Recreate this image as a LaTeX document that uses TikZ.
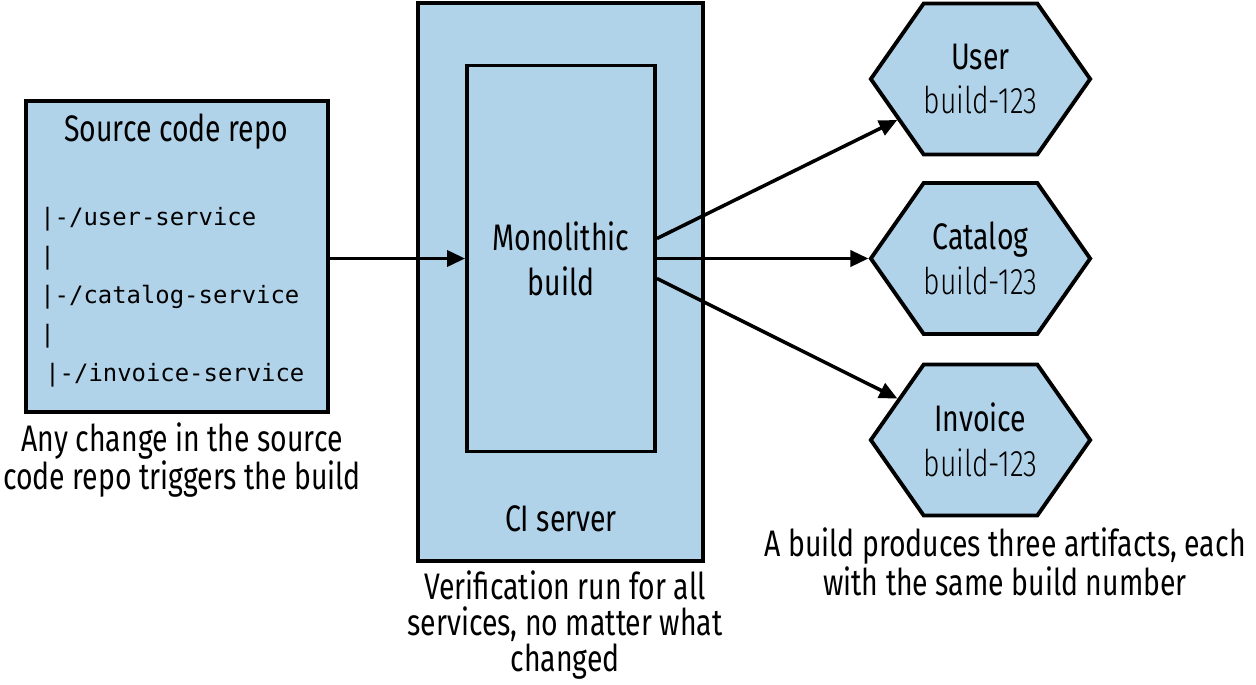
\documentclass[tikz,border=0pt]{standalone}
\usepackage{fontspec}
\setmainfont{Fira Sans}[FakeStretch=0.77]
\newfontfamily\lightfont{Fira Sans Light}[FakeStretch=0.77]
\setmonofont{DejaVu Sans Mono}
\usetikzlibrary{arrows.meta,shapes.symbols,calc}
\definecolor{boxblue}{RGB}{177,211,234}

\begin{document}
\begin{tikzpicture}[
  box/.style={
    draw=black,
    line width=2.2pt,
    fill=boxblue,
    inner sep=0pt
  },
  hexbox/.style={
    signal,
    signal to=east and west,
    signal pointer angle=110,
    draw=black,
    line width=2.2pt,
    fill=boxblue,
    inner sep=0pt,
    minimum width=4.32cm,
    minimum height=3.02cm,
    align=center,
    font=\fontsize{21}{25.5}\selectfont
  },
  label/.style={font=\fontsize{21}{25.5}\selectfont, align=center},
  caption/.style={font=\fontsize{21}{20.5}\selectfont, align=center},
  flow/.style={-{Triangle[length=0.36cm,width=0.32cm]}, line width=2pt}
]
\useasboundingbox (0,0) rectangle (25.12,-13.68);

% -------- Source code repo --------
\node[box, minimum width=6.04cm, minimum height=6.22cm] (src) at (3.54,-5.13) {};
\node[label] (srctitle) at (3.52,-2.64) {Source code repo};
\node[anchor=west, align=left, inner sep=0pt, font=\fontsize{13.6}{22.2}\selectfont\ttfamily] (tree) at (0.80,-5.95)
{|-/user-service\\|\\|-/catalog-service\\|\\\hspace{0.1cm}|-/invoice-service};
\node[caption] (srcnote) at (3.64,-9.2)
{Any change in the source\\code repo triggers the build};

% -------- CI server --------
\node[box, minimum width=5.70cm, minimum height=11.16cm] (ci) at (11.21,-5.64) {};
\node[box, label, minimum width=3.76cm, minimum height=7.72cm] (mono) at (11.22,-5.17)
{Monolithic\\build};
\node[label] (cilabel) at (11.22,-10.38) {CI server};
\node[caption] (cinote) at (11.3,-12.5)
{Verification run for all\\services, no matter what\\changed};

% -------- Artifacts --------
\node[hexbox] (usr) at (19.61,-1.58) {User\\{\lightfont build-123}};
\node[hexbox] (cat) at (19.61,-5.17) {Catalog\\{\lightfont build-123}};
\node[hexbox] (inv) at (19.61,-8.8) {Invoice\\{\lightfont build-123}};
\node[caption] (artnote) at (20.1,-11.24)
{A build produces three artifacts, each\\with the same build number};

% -------- Connectors --------
\draw[flow] (src.east |- mono.west) -- (mono.west);
\draw[flow] ($(mono.east)+(0,0.4)$) -- (usr);
\draw[flow] (mono.east) -- (cat.west);
\draw[flow] ($(mono.east)+(0,-0.4)$) -- (inv);

\end{tikzpicture}
\end{document}
